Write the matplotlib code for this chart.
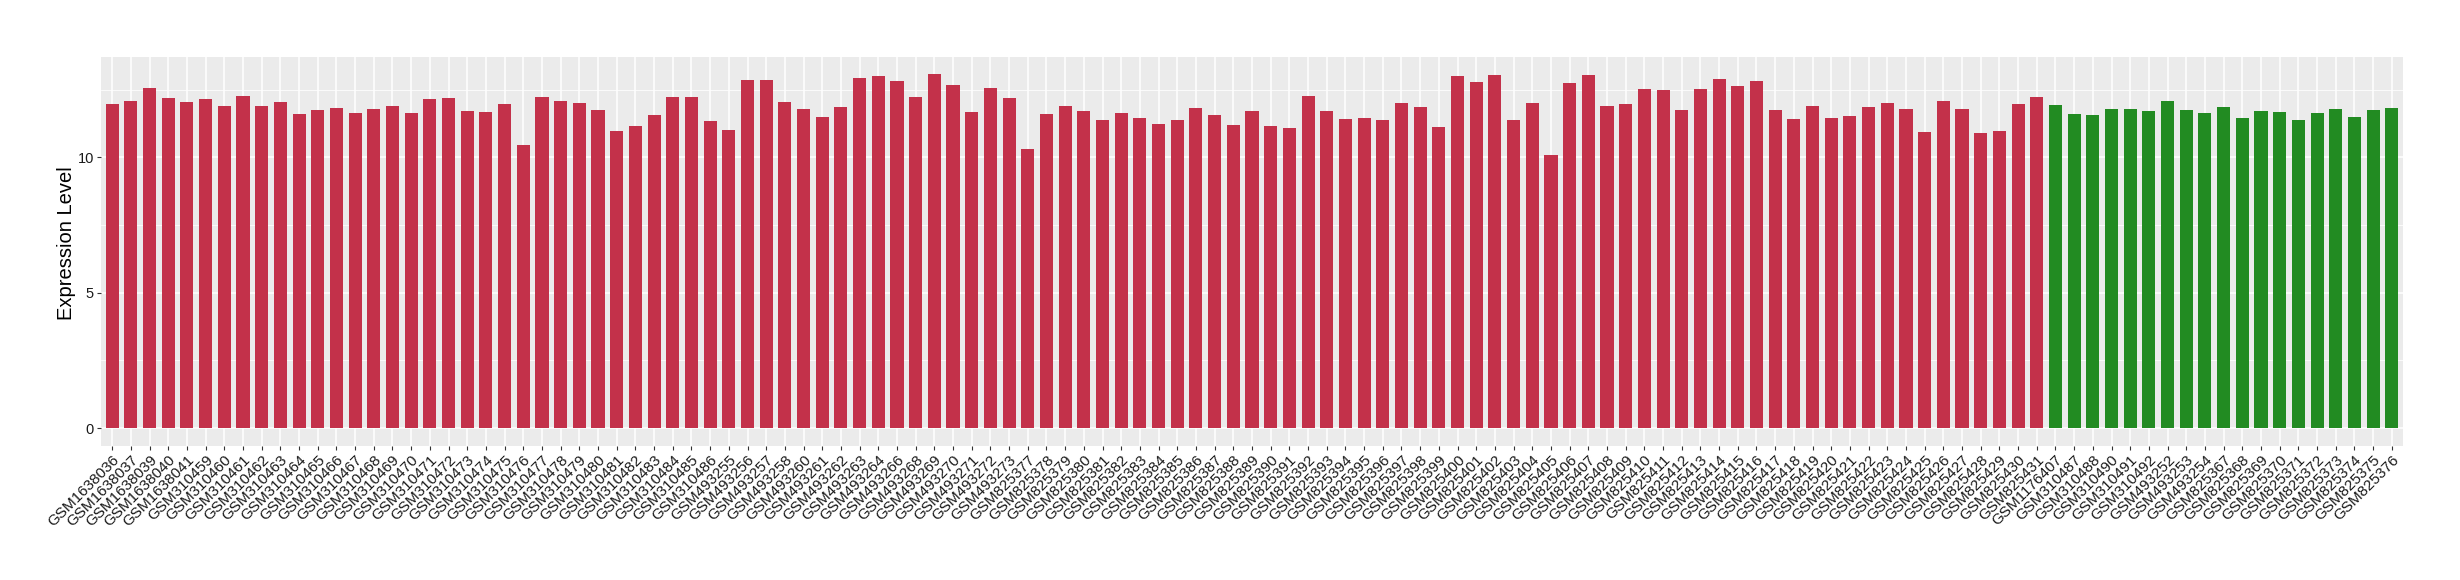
import matplotlib
matplotlib.use("Agg")
import matplotlib.pyplot as plt
from matplotlib.ticker import MultipleLocator

plt.rcParams['font.family'] = ['Liberation Sans', 'DejaVu Sans']

red_samples = [
    "GSM1638036", "GSM1638037", "GSM1638039", "GSM1638040", "GSM1638041",
    "GSM310459", "GSM310460", "GSM310461", "GSM310462", "GSM310463", "GSM310464",
    "GSM310465", "GSM310466", "GSM310467", "GSM310468", "GSM310469", "GSM310470",
    "GSM310471", "GSM310472", "GSM310473", "GSM310474", "GSM310475", "GSM310476",
    "GSM310477", "GSM310478", "GSM310479", "GSM310480", "GSM310481", "GSM310482",
    "GSM310483", "GSM310484", "GSM310485", "GSM310486",
    "GSM493255", "GSM493256", "GSM493257", "GSM493258", "GSM493260", "GSM493261",
    "GSM493262", "GSM493263", "GSM493264", "GSM493266", "GSM493268", "GSM493269",
    "GSM493270", "GSM493271", "GSM493272", "GSM493273",
] + ["GSM8253%02d" % i for i in range(77, 100)] + ["GSM8254%02d" % i for i in range(0, 32)]

red_values = [
    11.97, 12.08, 12.56, 12.19, 12.04,
    12.15, 11.89, 12.26, 11.89, 12.04, 11.60,
    11.74, 11.82, 11.63, 11.78, 11.89, 11.63,
    12.15, 12.19, 11.71, 11.67, 11.97, 10.45,
    12.22, 12.08, 12.00, 11.74, 10.97, 11.15,
    11.56, 12.22, 12.22, 11.34,
    11.01, 12.85, 12.85, 12.04, 11.78, 11.49,
    11.86, 12.92, 13.00, 12.81, 12.22, 13.07,
    12.67, 11.67, 12.56, 12.19,
    # GSM825377 - GSM825399
    10.31, 11.60, 11.89, 11.71, 11.38, 11.63, 11.45, 11.23, 11.38, 11.82,
    11.56, 11.19, 11.71, 11.15, 11.08, 12.26, 11.71, 11.41, 11.45, 11.38,
    12.00, 11.86, 11.12,
    # GSM825400 - GSM825431
    13.00, 12.78, 13.03, 11.38, 12.00, 10.09, 12.74, 13.03, 11.89, 11.97,
    12.52, 12.48, 11.74, 12.52, 12.89, 12.63, 12.81, 11.74, 11.41, 11.89,
    11.45, 11.52, 11.86, 12.00, 11.78, 10.93, 12.08, 11.78, 10.90, 10.97,
    11.97, 12.22,
]

green_samples = [
    "GSM1176407", "GSM310487", "GSM310488", "GSM310490", "GSM310491", "GSM310492",
    "GSM493252", "GSM493253", "GSM493254",
    "GSM825367", "GSM825368", "GSM825369", "GSM825370", "GSM825371",
    "GSM825372", "GSM825373", "GSM825374", "GSM825375", "GSM825376",
]
green_values = [
    11.93, 11.60, 11.56, 11.78, 11.78, 11.71,
    12.08, 11.74, 11.63,
    11.86, 11.45, 11.71, 11.67, 11.38,
    11.63, 11.78, 11.49, 11.74, 11.82,
]

red_color = "#C3314A"
green_color = "#228B22"

samples = red_samples + green_samples
values = red_values + green_values
colors = [red_color] * len(red_samples) + [green_color] * len(green_samples)
x = list(range(len(samples)))

fig = plt.figure(figsize=(24.6, 5.8), dpi=100)
ax = fig.add_axes([101 / 2460, 1 - 445.7 / 580, 2302 / 2460, (445.7 - 56.7) / 580])
ax.set_facecolor("#EBEBEB")
ax.bar(x, values, width=0.7, color=colors, zorder=3)

ax.set_xlim(-0.6, len(samples) - 1 + 0.6)
ymax = max(values)
ax.set_ylim(-0.05 * ymax, 1.05 * ymax)
ax.yaxis.set_major_locator(MultipleLocator(5))
ax.yaxis.set_minor_locator(MultipleLocator(2.5))
ax.grid(which="major", color="white", linewidth=1.1, zorder=0)
ax.grid(which="minor", axis="y", color="white", linewidth=0.55, zorder=0)
ax.set_axisbelow(True)
for s in ax.spines.values():
    s.set_visible(False)

ax.set_xticks(x)
ax.set_xticklabels(samples, rotation=45, ha="right", rotation_mode="anchor",
                   fontsize=11, color="#1A1A1A")
ax.tick_params(axis="x", which="major", length=3, width=0.8, color="#333333", pad=2)
ax.tick_params(axis="y", which="major", length=3, width=0.8, color="#333333",
               labelsize=10.5, labelcolor="#1A1A1A", pad=2)
ax.tick_params(axis="y", which="minor", length=0)

fig.text(67 / 2460, 1 - 243 / 580, "Expression Level", rotation=90,
         ha="center", va="center", fontsize=14.5, color="black")

fig.savefig("out.png", dpi=100, facecolor="white")
